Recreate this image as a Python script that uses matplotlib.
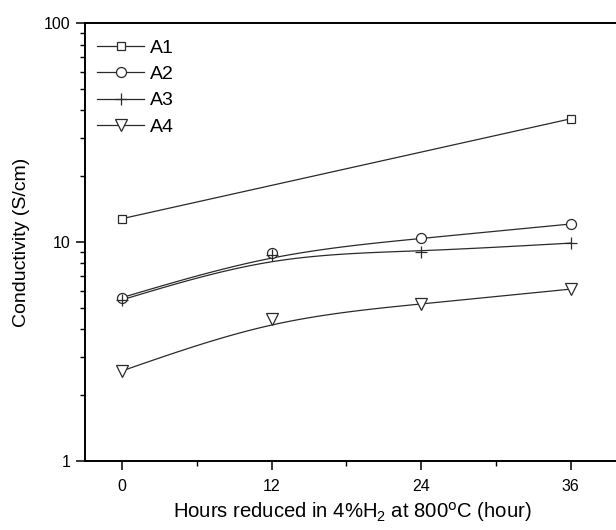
import numpy as np
import matplotlib
matplotlib.use("Agg")
import matplotlib.pyplot as plt
from matplotlib.ticker import LogLocator, FixedLocator, FixedFormatter, NullFormatter

plt.rcParams['font.family'] = ['Liberation Sans', 'DejaVu Sans']
plt.rcParams['mathtext.default'] = 'regular'

# data
hours = [0, 12, 24, 36]
a1_hours = [0, 36]
a1 = [12.8, 36.6]
a2 = [5.58, 8.9, 10.4, 12.1]
a3 = [5.45, 8.75, 9.06, 9.9]
a4 = [2.58, 4.46, 5.22, 6.1]

x_ticks = [0, 12, 24, 36]
y_ticks = [1, 10, 100]
y_tick_labels = ['1', '10', '100']

col = '#2a2a2a'


def bspline(x, y, n=30):
    # uniform cubic B-spline (Origin style), ends pinned, in (x, log y) space
    x = np.asarray(x, float)
    ly = np.log10(np.asarray(y, float))
    px = np.concatenate([[2 * x[0] - x[1]], x, [2 * x[-1] - x[-2]]])
    py = np.concatenate([[2 * ly[0] - ly[1]], ly, [2 * ly[-1] - ly[-2]]])
    t = np.linspace(0, 1, n)
    b0 = (1 - t) ** 3 / 6
    b1 = (3 * t ** 3 - 6 * t ** 2 + 4) / 6
    b2 = (-3 * t ** 3 + 3 * t ** 2 + 3 * t + 1) / 6
    b3 = t ** 3 / 6
    xs, ys = [], []
    for i in range(len(px) - 3):
        xs.append(b0 * px[i] + b1 * px[i + 1] + b2 * px[i + 2] + b3 * px[i + 3])
        ys.append(b0 * py[i] + b1 * py[i + 1] + b2 * py[i + 2] + b3 * py[i + 3])
    return np.concatenate(xs), 10 ** np.concatenate(ys)


fig = plt.figure(figsize=(6.16, 5.30), dpi=100)
ax = fig.add_axes([84.6 / 616, 69 / 530, 535.8 / 616, 437.7 / 530])

series = [
    ('A1', a1_hours, a1, 's', 6.3),
    ('A2', hours, a2, 'o', 7.2),
    ('A3', hours, a3, '+', 9.0),
    ('A4', hours, a4, 'v', 8.2),
]

handles = []
for name, xs, ys, mk, ms in series:
    if len(xs) > 2:
        cx, cy = bspline(xs, ys)
    else:
        cx, cy = xs, ys
    ax.plot(cx, cy, color=col, lw=0.9, zorder=2)
    ax.plot(xs, ys, ls='none', marker=mk, ms=ms, mfc='white', mec=col,
            mew=0.9, zorder=3)
    h, = ax.plot([], [], color=col, lw=0.9, marker=mk, ms=ms, mfc='white',
                 mec=col, mew=0.9, label=name)
    handles.append(h)

ax.set_yscale('log')
ax.set_ylim(1, 100)
ax.set_xlim(-3, 40)

ax.xaxis.set_major_locator(FixedLocator(x_ticks))
ax.xaxis.set_minor_locator(FixedLocator([6, 18, 30]))
ax.yaxis.set_major_locator(FixedLocator(y_ticks))
ax.yaxis.set_major_formatter(FixedFormatter(y_tick_labels))
ax.yaxis.set_minor_locator(LogLocator(base=10, subs=np.arange(2, 10)))
ax.yaxis.set_minor_formatter(NullFormatter())

ax.tick_params(which='major', direction='out', length=6.3, width=1.1,
               labelsize=11.5, colors='black', pad=4)
ax.tick_params(which='minor', direction='out', length=3.3, width=1.0)
ax.tick_params(axis='x', which='major', pad=6.5)
ax.tick_params(top=False, right=False, which='both')

for s in ax.spines.values():
    s.set_linewidth(1.4)
    s.set_color('black')

ax.set_ylabel('Conductivity (S/cm)', fontsize=14)
ax.set_xlabel(r'Hours reduced in 4%H$_2$ at 800$^{\mathrm{o}}$C (hour)',
              fontsize=14.6)
ax.yaxis.set_label_coords(-0.102, 0.5)
ax.xaxis.set_label_coords(0.5, -0.088)

ax.legend(handles=handles, loc='upper left', frameon=False, fontsize=14,
          handlelength=2.42, handletextpad=0.31, labelspacing=0.45,
          borderpad=0, borderaxespad=0,
          bbox_to_anchor=(97 / 616, 1 - 39 / 530),
          bbox_transform=fig.transFigure)

fig.savefig('out.png', dpi=100)
